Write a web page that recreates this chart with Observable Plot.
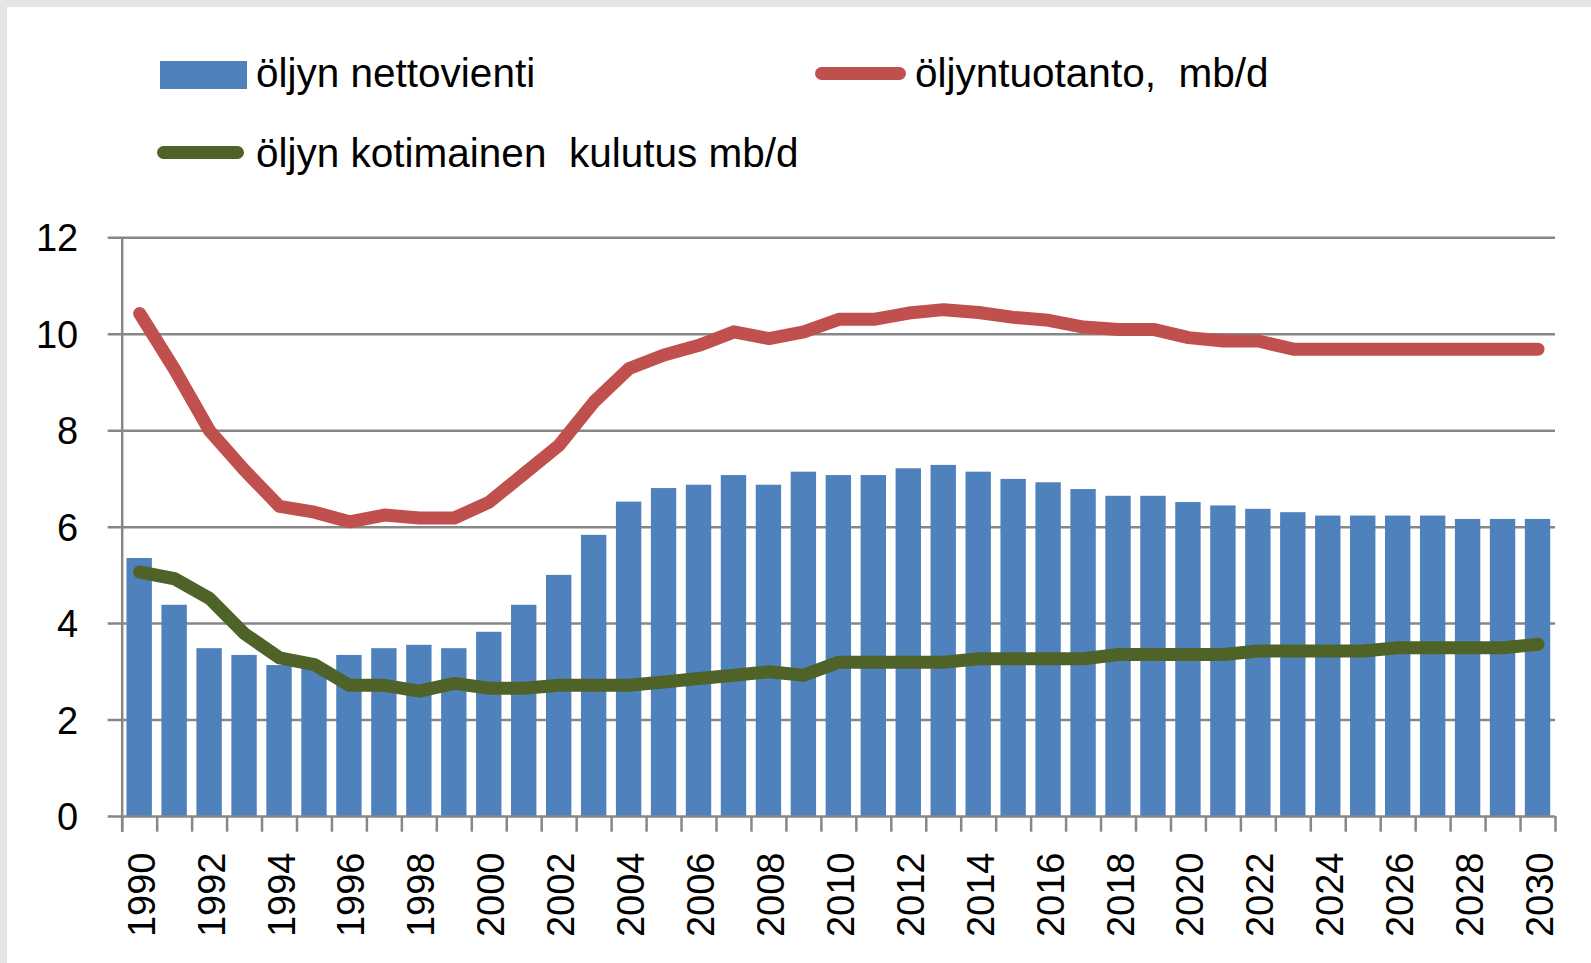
<!DOCTYPE html>
<html><head><meta charset="utf-8">
<script src="https://cdn.jsdelivr.net/npm/d3@7"></script>
<script src="https://cdn.jsdelivr.net/npm/@observablehq/plot@0.6"></script>
<style>
html,body{margin:0;padding:0;background:#fff;width:1591px;height:963px;overflow:hidden;font-family:"Liberation Sans",Arial,sans-serif}
#chart{position:absolute;left:0;top:200px}
.edge-top{position:absolute;left:0;top:0;width:1591px;height:7px;background:#e4e6e5;z-index:5}
.edge-left{position:absolute;left:0;top:0;width:7px;height:963px;background:#e4e6e5;z-index:5}
.lg{position:absolute;font-size:40.5px;line-height:40px;white-space:pre;color:#000}
.sw{position:absolute}
</style></head><body>
<div class="edge-top"></div><div class="edge-left"></div>
<div id="legend"></div>
<div id="chart"></div>
<script>
const years = [1990,1991,1992,1993,1994,1995,1996,1997,1998,1999,2000,2001,2002,2003,2004,2005,2006,2007,2008,2009,2010,2011,2012,2013,2014,2015,2016,2017,2018,2019,2020,2021,2022,2023,2024,2025,2026,2027,2028,2029,2030];
const nettovienti = [5.35,4.38,3.48,3.34,3.13,3.10,3.34,3.48,3.55,3.48,3.82,4.38,5.00,5.83,6.52,6.80,6.87,7.07,6.87,7.14,7.07,7.07,7.21,7.28,7.14,6.99,6.92,6.78,6.64,6.64,6.51,6.44,6.37,6.30,6.23,6.23,6.23,6.23,6.16,6.16,6.16];
const tuotanto = [10.43,9.27,8.00,7.18,6.43,6.31,6.11,6.25,6.19,6.19,6.52,7.11,7.70,8.60,9.29,9.57,9.77,10.05,9.91,10.05,10.31,10.31,10.44,10.51,10.45,10.35,10.29,10.15,10.10,10.10,9.93,9.86,9.86,9.69,9.69,9.69,9.69,9.69,9.69,9.69,9.69];
const kulutus = [5.07,4.93,4.52,3.79,3.29,3.15,2.72,2.72,2.60,2.76,2.66,2.66,2.72,2.72,2.72,2.79,2.86,2.93,3.00,2.93,3.20,3.20,3.20,3.20,3.27,3.27,3.27,3.27,3.36,3.36,3.36,3.36,3.43,3.43,3.43,3.43,3.50,3.50,3.50,3.50,3.57];
const yTicks = [0,2,4,6,8,10,12];
const xTickLabels = [1990,1992,1994,1996,1998,2000,2002,2004,2006,2008,2010,2012,2014,2016,2018,2020,2022,2024,2026,2028,2030];
const seriesNames = ["öljyn nettovienti","öljyntuotanto,  mb/d","öljyn kotimainen  kulutus mb/d"];

const BLUE = "#4F81BD", RED = "#C0504D", GREEN = "#4F6228", GRID = "#878787";
const rows = years.map((year, i) => ({year, netto: nettovienti[i], tuot: tuotanto[i], kul: kulutus[i]}));
const boundaries = years.map(y => y - 0.5).concat([years[years.length - 1] + 0.5]);
const half = 0.363;

// legend (HTML, above the SVG)
const legend = document.getElementById("legend");
function addSwatch(style){const d=document.createElement("div");d.className="sw";Object.assign(d.style,style);legend.appendChild(d);}
function addText(txt,left,top){const d=document.createElement("div");d.className="lg";d.textContent=txt;d.style.left=left+"px";d.style.top=top+"px";legend.appendChild(d);}
addSwatch({left:"160px",top:"61px",width:"87px",height:"28px",background:BLUE});
addText(seriesNames[0],256,53);
addSwatch({left:"815px",top:"66.5px",width:"91px",height:"13px",background:RED,borderRadius:"6.5px"});
addText(seriesNames[1],915,53);
addSwatch({left:"157px",top:"145.5px",width:"87px",height:"13px",background:GREEN,borderRadius:"6.5px"});
addText(seriesNames[2],256,133);

const chart = Plot.plot({
  width: 1591, height: 763,
  marginTop: 37.3, marginBottom: 147, marginLeft: 121.7, marginRight: 36,
  x: {type: "linear", domain: [boundaries[0], boundaries[boundaries.length - 1]], axis: null},
  y: {domain: [0, 12], axis: null},
  style: {background: "transparent", fontFamily: "Liberation Sans, Arial, sans-serif", overflow: "visible"},
  marks: [
    Plot.ruleY(yTicks.filter(v => v > 0), {y: d => d, stroke: GRID, strokeWidth: 2.5, insetLeft: -14}),
    Plot.rect(rows, {x1: d => d.year - half, x2: d => d.year + half, y1: 0, y2: "netto", fill: BLUE}),
    Plot.ruleY([0], {y: d => d, stroke: GRID, strokeWidth: 2.5, insetLeft: -14}),
    Plot.ruleX([boundaries[0]], {x: d => d, stroke: GRID, strokeWidth: 2.5, insetBottom: -15.7}),
    Plot.ruleX(boundaries, {x: d => d, y1: 0, y2: 0, stroke: GRID, strokeWidth: 2.5, insetBottom: -15.7}),
    Plot.line(rows, {x: "year", y: "tuot", stroke: RED, strokeWidth: 13, strokeLinejoin: "round", strokeLinecap: "round"}),
    Plot.line(rows, {x: "year", y: "kul", stroke: GREEN, strokeWidth: 13, strokeLinejoin: "round", strokeLinecap: "round"}),
    Plot.text(yTicks, {y: d => d, text: d => String(d), frameAnchor: "left", textAnchor: "end", dx: -44, dy: 1.5, fontSize: 38, fill: "#000"}),
    Plot.text(xTickLabels, {x: d => d, text: d => String(d), frameAnchor: "bottom", rotate: -90, textAnchor: "end", dy: 36, dx: 15, fontSize: 38, fill: "#000"})
  ]
});
document.getElementById("chart").appendChild(chart);
</script>
</body></html>
